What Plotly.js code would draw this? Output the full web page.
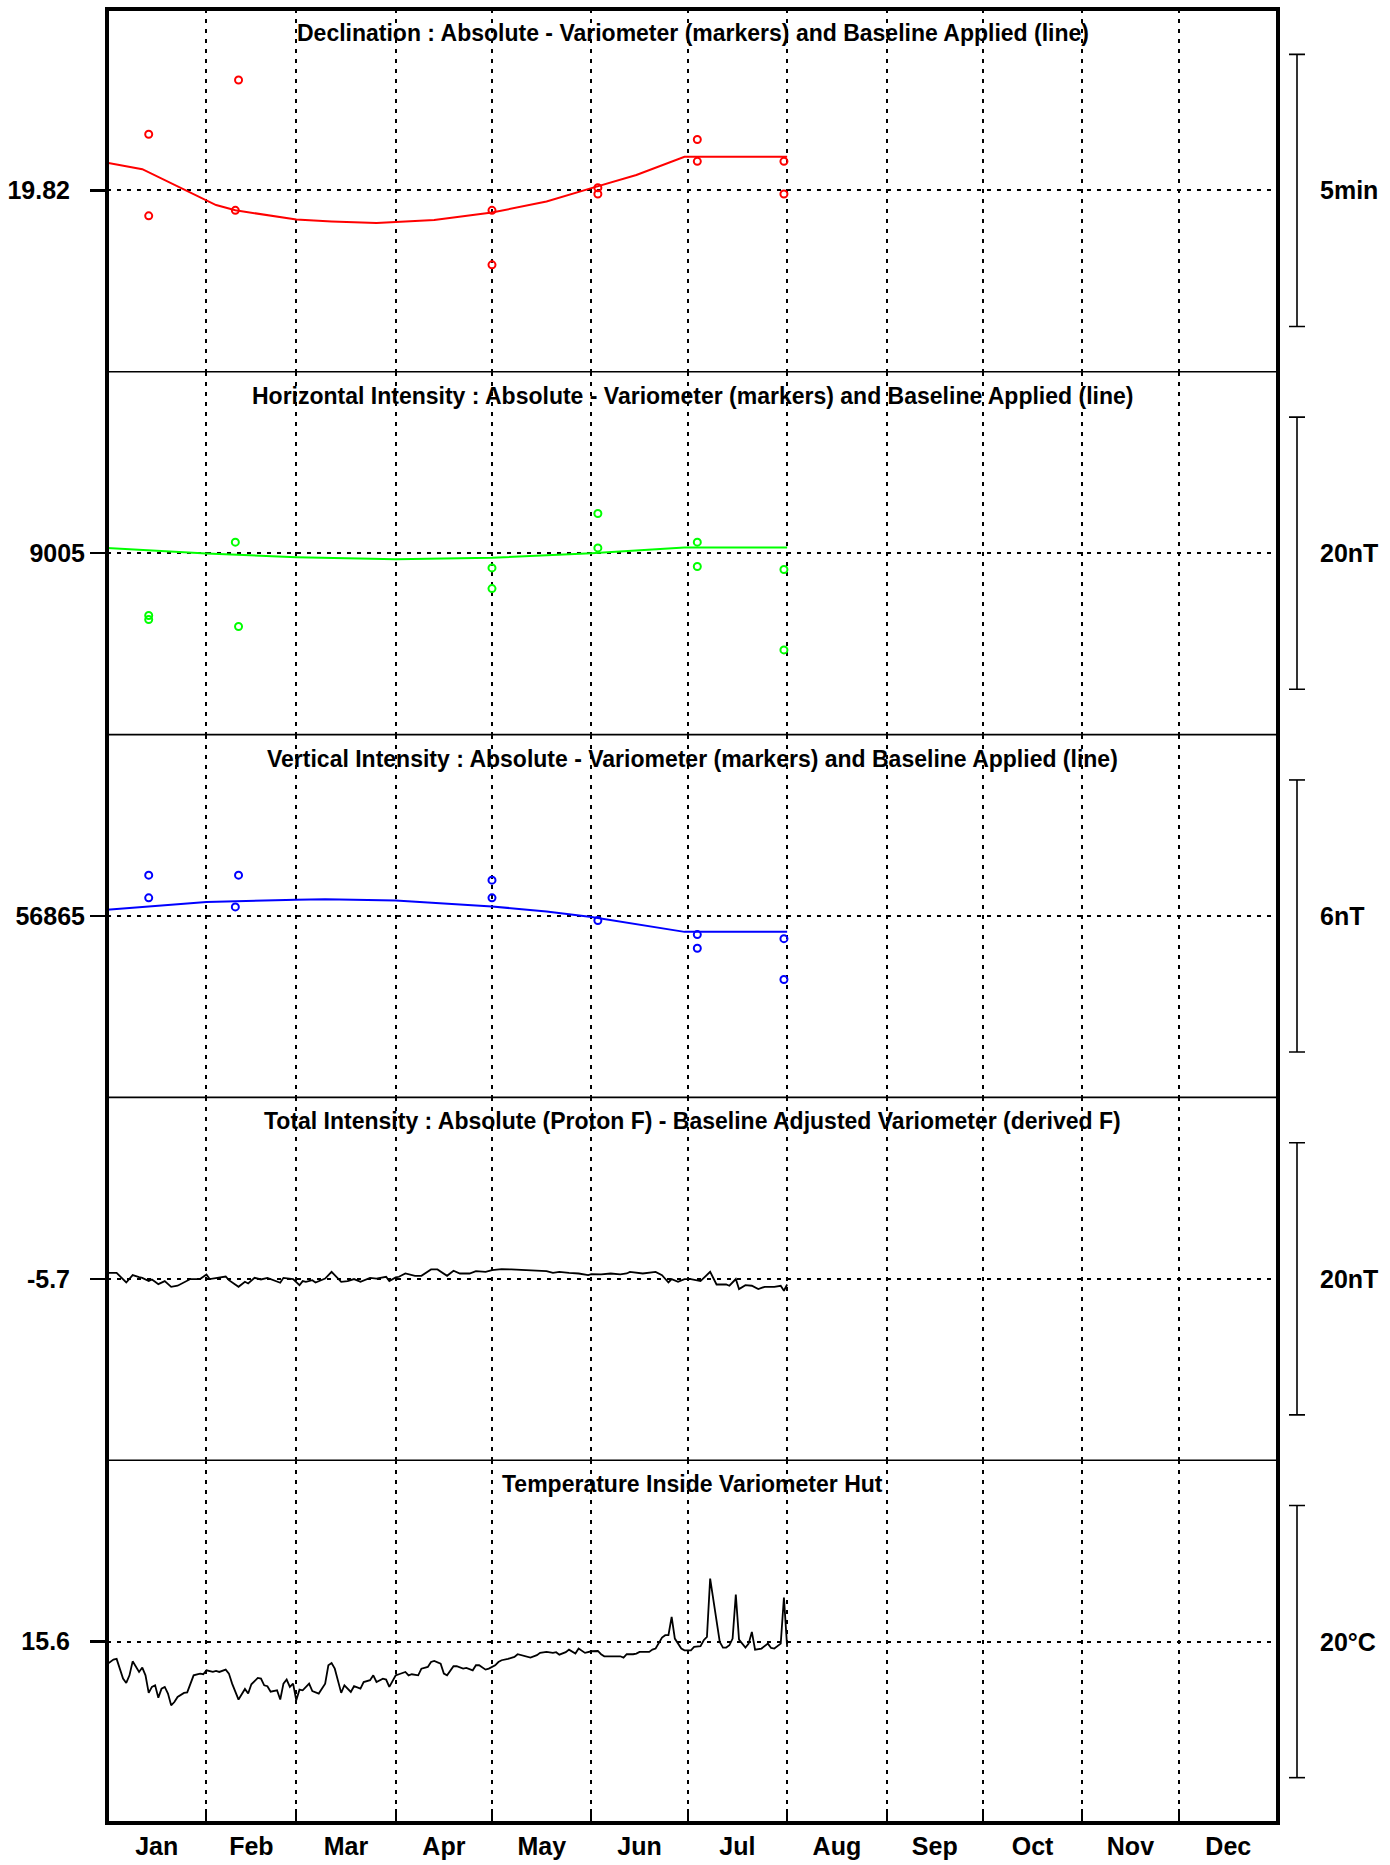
<!DOCTYPE html>
<html><head><meta charset="utf-8">
<script src="https://cdn.plot.ly/plotly-3.0.1.min.js"></script>
<style>html,body{margin:0;padding:0;background:#fff}#chart{width:1390px;height:1865px}</style>
</head><body><div id="chart"></div>
<script>
const YEAR = "2019-";

const panelTitles = [
  "Declination : Absolute - Variometer (markers) and Baseline Applied (line)",
  "Horizontal Intensity : Absolute - Variometer (markers) and Baseline Applied (line)",
  "Vertical Intensity : Absolute - Variometer (markers) and Baseline Applied (line)",
  "Total Intensity : Absolute (Proton F) - Baseline Adjusted Variometer (derived F)",
  "Temperature Inside Variometer Hut"
];
const panelCenters = [19.82, 9005, 56865, -5.7, 15.6];
const centerLabels = ["19.82", "9005", "56865", "-5.7", "15.6"];
const scaleBarSizes = [5/60, 20, 6, 20, 20];
const scaleBarLabels = ["5min", "20nT", "6nT", "20nT", "20°C"];

// Declination (degrees)
const declMarkDates = ["01-14","01-14","02-11","02-10","05-01","05-01","06-03","06-03","07-04","07-04","07-31","07-31"];
const declMarkVals  = [19.8372,19.8122,19.8538,19.8139,19.8139,19.7972,19.8208,19.8189,19.8356,19.8289,19.8289,19.8189];
const declLineDates = ["01-01","01-12","02-04","02-10","03-01","03-12","03-26","04-13","05-01","05-18","06-01","06-15","06-30","08-01"];
const declLineVals  = [19.8285,19.8265,19.8155,19.8139,19.8111,19.8105,19.8100,19.8109,19.8132,19.8166,19.8207,19.8247,19.8303,19.8303];

// Horizontal intensity (nT)
const hMarkDates = ["01-14","01-14","02-10","02-11","05-01","05-01","06-03","06-03","07-04","07-04","07-31","07-31"];
const hMarkVals  = [9000.42,9000.12,9005.81,8999.61,9003.92,9002.40,9007.92,9005.39,9005.81,9004.02,9003.80,8997.89];
const hLineDates = ["01-01","02-01","03-01","04-01","05-01","06-01","06-30","08-01"];
const hLineVals  = [9005.39,9004.98,9004.71,9004.56,9004.66,9005.00,9005.42,9005.42];

// Vertical intensity (nT)
const zMarkDates = ["01-14","01-14","02-11","02-10","05-01","05-01","06-03","07-04","07-04","07-31","07-31"];
const zMarkVals  = [56865.90,56865.40,56865.90,56865.20,56865.79,56865.40,56864.90,56864.59,56864.29,56864.50,56863.60];
const zLineDates = ["01-01","02-01","03-01","03-10","04-01","05-01","05-18","06-01","06-30","08-01"];
const zLineVals  = [56865.14,56865.31,56865.36,56865.37,56865.34,56865.21,56865.10,56864.98,56864.65,56864.65];

// Total intensity difference (nT)
const fDates = ["01-01","01-04","01-07","01-09","01-11","01-12","01-14","01-15","01-16","01-17","01-19","01-21","01-23","01-27","01-30",
"02-01","02-02","02-05","02-07","02-08","02-11","02-13","02-14","02-16","02-18","02-20","02-22","02-24","02-25","02-27","02-28",
"03-02","03-03","03-04","03-06","03-07","03-10","03-12","03-14","03-15","03-17","03-19","03-21","03-23","03-24","03-26","03-29","03-30",
"04-01","04-02","04-04","04-07","04-09","04-12","04-14","04-17","04-19","04-21","04-24","04-26","04-29",
"05-01","05-04","05-07","05-11","05-16","05-18","05-20","05-22","05-25","05-28","05-31",
"06-01","06-04","06-07","06-10","06-12","06-13","06-15","06-17","06-21","06-23","06-25","06-26","06-28","06-30",
"07-02","07-05","07-08","07-10","07-13","07-14","07-16","07-17","07-19","07-21","07-23","07-25","07-28","07-30","07-31","08-01"];
const fVals = [-5.26,-5.26,-5.97,-5.43,-5.58,-5.63,-5.87,-5.75,-5.92,-6.09,-5.87,-6.29,-6.21,-5.72,-5.72,
-5.38,-5.72,-5.63,-5.53,-5.80,-6.29,-5.92,-6.04,-5.63,-5.75,-5.63,-5.80,-5.99,-5.63,-5.68,-5.72,
-6.17,-5.87,-5.92,-5.80,-5.97,-5.68,-5.19,-5.68,-5.92,-5.87,-5.72,-5.92,-5.72,-5.63,-5.68,-5.55,-5.87,
-5.60,-5.55,-5.31,-5.48,-5.48,-5.01,-5.01,-5.48,-5.11,-5.31,-5.31,-5.14,-5.19,
-5.06,-4.99,-5.01,-5.06,-5.14,-5.14,-5.26,-5.19,-5.26,-5.31,-5.43,
-5.36,-5.38,-5.31,-5.38,-5.31,-5.19,-5.26,-5.31,-5.19,-5.43,-5.97,-5.72,-5.92,-5.72,
-5.72,-5.87,-5.19,-6.12,-6.12,-6.21,-5.72,-6.46,-6.17,-6.21,-6.46,-6.29,-6.29,-6.21,-6.58,-6.12];

// Temperature (deg C)
const tDates = ["01-01","01-03","01-04","01-06","01-07","01-08","01-09","01-10","01-11","01-12","01-13","01-14","01-15","01-16","01-17","01-18","01-19","01-20","01-21","01-22","01-23","01-25","01-26","01-28","01-30","01-31",
"02-01","02-03","02-04","02-05","02-07","02-08","02-09","02-11","02-13","02-14","02-15","02-17","02-18","02-19","02-20","02-21","02-23","02-24","02-25","02-26","02-27","02-28",
"03-01","03-02","03-03","03-05","03-06","03-08","03-10","03-11","03-12","03-13","03-14","03-15","03-16","03-18","03-19","03-21","03-22","03-24","03-25","03-26","03-28","03-29","03-30",
"04-01","04-02","04-04","04-05","04-06","04-08","04-09","04-11","04-12","04-13","04-15","04-16","04-17","04-19","04-20","04-22","04-23","04-25","04-26","04-27","04-29","04-30",
"05-02","05-03","05-04","05-06","05-08","05-09","05-11","05-13","05-15","05-16","05-18","05-20","05-21","05-22","05-24","05-25","05-27","05-28","05-30",
"06-01","06-03","06-04","06-05","06-10","06-11","06-12","06-14","06-15","06-16","06-19","06-20","06-21","06-23","06-24","06-25","06-26","06-27","06-29","06-30",
"07-02","07-03","07-05","07-06","07-07","07-08","07-11","07-12","07-13","07-14","07-15","07-16","07-17","07-19","07-20","07-21","07-22","07-24","07-26","07-27","07-28","07-30","07-31","08-01"];
const tVals = [13.93,14.28,14.33,12.88,12.56,13.12,14.15,13.79,13.37,13.69,13.12,11.83,12.27,12.39,11.48,12.14,12.27,11.78,10.92,11.16,11.53,11.83,11.87,13.12,13.25,13.20,
13.49,13.37,13.44,13.37,13.54,13.25,12.51,11.34,12.12,11.78,12.46,12.93,12.88,12.39,12.32,11.92,12.02,11.34,12.51,12.81,12.27,12.51,
11.29,12.07,12.02,12.51,11.97,11.78,12.51,13.86,14.03,13.61,12.63,11.83,12.39,11.90,12.32,12.14,12.63,12.76,13.12,12.63,12.88,12.81,12.27,
13.12,13.20,13.37,13.12,13.20,13.12,13.61,13.74,14.10,14.18,13.98,13.25,13.12,13.79,13.79,13.61,13.66,13.49,13.86,13.86,13.54,13.61,
13.86,14.10,14.23,14.33,14.47,14.67,14.55,14.42,14.60,14.77,14.84,14.77,14.82,14.64,14.82,15.01,14.72,15.09,14.77,
14.89,14.91,14.67,14.52,14.52,14.42,14.67,14.67,14.72,14.84,14.84,15.01,15.09,15.89,16.07,16.07,17.41,15.82,15.09,14.96,
14.96,15.21,15.26,15.70,15.94,20.23,15.58,15.16,15.16,15.33,15.82,19.06,15.75,15.16,15.45,16.31,15.01,15.09,15.45,15.13,15.09,15.45,18.84,15.21];

const d = arr => arr.map(s => YEAR + s);
const FONT = "Liberation Sans, Arial, Helvetica, sans-serif";
const BAR_FRACTION = 0.75;
const labelStandoffs = [15, 0, 0, 15, 15];

const traces = [
  {x: d(declLineDates), y: declLineVals, yaxis: "y", mode: "lines", line: {color: "#ff0000", width: 2}},
  {x: d(declMarkDates), y: declMarkVals, yaxis: "y", mode: "markers", marker: {symbol: "circle-open", size: 7, color: "#ff0000", line: {width: 2, color: "#ff0000"}}},
  {x: d(hLineDates), y: hLineVals, yaxis: "y2", mode: "lines", line: {color: "#00ff00", width: 2}},
  {x: d(hMarkDates), y: hMarkVals, yaxis: "y2", mode: "markers", marker: {symbol: "circle-open", size: 7, color: "#00ff00", line: {width: 2, color: "#00ff00"}}},
  {x: d(zLineDates), y: zLineVals, yaxis: "y3", mode: "lines", line: {color: "#0000ff", width: 2}},
  {x: d(zMarkDates), y: zMarkVals, yaxis: "y3", mode: "markers", marker: {symbol: "circle-open", size: 7, color: "#0000ff", line: {width: 2, color: "#0000ff"}}},
  {x: d(fDates), y: fVals, yaxis: "y4", mode: "lines", line: {color: "#000000", width: 1.8}},
  {x: d(tDates), y: tVals, yaxis: "y5", mode: "lines", line: {color: "#000000", width: 1.8}}
];
traces.forEach(t => { t.xaxis = "x"; t.hoverinfo = "skip"; t.showlegend = false; t.cliponaxis = true; });

const GRID_DASH = "4px,6px";
const layout = {
  width: 1390, height: 1865,
  margin: {l: 107, r: 112, t: 9, b: 42},
  paper_bgcolor: "#ffffff", plot_bgcolor: "#ffffff",
  showlegend: false,
  font: {family: FONT, color: "#000000"},
  xaxis: {
    type: "date", range: [YEAR + "01-01", "2020-01-01"],
    dtick: "M1", tick0: YEAR + "01-01", tickformat: "%b", ticklabelmode: "period",
    showgrid: true, gridcolor: "#000000", gridwidth: 2, griddash: GRID_DASH,
    ticks: "inside", ticklen: 14, tickwidth: 2, tickcolor: "#000000",
    tickfont: {family: FONT, size: 25, weight: "bold", color: "#000000"},
    ticklabelstandoff: 6,
    anchor: "y5", showline: false, zeroline: false, fixedrange: true
  },
  shapes: [], annotations: []
};

for (let i = 0; i < 5; i++) {
  const key = i === 0 ? "yaxis" : "yaxis" + (i + 1);
  const ref = i === 0 ? "y" : "y" + (i + 1);
  const c = panelCenters[i];
  const half = scaleBarSizes[i] / (2 * BAR_FRACTION);
  layout[key] = {
    domain: [1 - (i + 1) / 5, 1 - i / 5],
    range: [c - half, c + half],
    tickmode: "array", tickvals: [c], ticktext: [centerLabels[i]],
    ticks: "outside", ticklen: 16, tickwidth: 2.5, tickcolor: "#000000",
    ticklabelstandoff: labelStandoffs[i],
    tickfont: {family: FONT, size: 25, weight: "bold", color: "#000000"},
    showgrid: true, gridcolor: "#000000", gridwidth: 2, griddash: GRID_DASH,
    zeroline: false, showline: false, anchor: "x", fixedrange: true
  };
  // panel title
  layout.annotations.push({
    text: panelTitles[i], xref: "paper", yref: "paper", x: 0.5, y: 1 - i / 5,
    xanchor: "center", yanchor: "middle", yshift: -24, showarrow: false,
    font: {family: FONT, size: 23, weight: "bold", color: "#000000"}
  });
  // scale label
  layout.annotations.push({
    text: scaleBarLabels[i], xref: "paper", yref: ref, x: 1, y: c,
    xanchor: "left", yanchor: "middle", xshift: 40, showarrow: false,
    font: {family: FONT, size: 25, weight: "bold", color: "#000000"}
  });
  // scale bar
  const b0 = c - scaleBarSizes[i] / 2, b1 = c + scaleBarSizes[i] / 2;
  const barLine = {color: "#000000", width: 1.6};
  layout.shapes.push({type: "line", xref: "paper", xsizemode: "pixel", xanchor: 1, x0: 19, x1: 19, yref: ref, y0: b0, y1: b1, line: barLine});
  layout.shapes.push({type: "line", xref: "paper", xsizemode: "pixel", xanchor: 1, x0: 11, x1: 27, yref: ref, y0: b0, y1: b0, line: barLine});
  layout.shapes.push({type: "line", xref: "paper", xsizemode: "pixel", xanchor: 1, x0: 11, x1: 27, yref: ref, y0: b1, y1: b1, line: barLine});
  // separators between panels
  if (i > 0) {
    layout.shapes.push({type: "line", xref: "paper", yref: "paper", x0: 0, x1: 1, y0: 1 - i / 5, y1: 1 - i / 5, line: {color: "#000000", width: 1.6}, layer: "above"});
  }
}
// outer frame
layout.shapes.push({type: "rect", xref: "paper", yref: "paper", x0: 0, x1: 1, y0: 0, y1: 1, line: {color: "#000000", width: 4}, layer: "above"});

Plotly.newPlot("chart", traces, layout, {staticPlot: true, displayModeBar: false});
</script>
</body></html>
